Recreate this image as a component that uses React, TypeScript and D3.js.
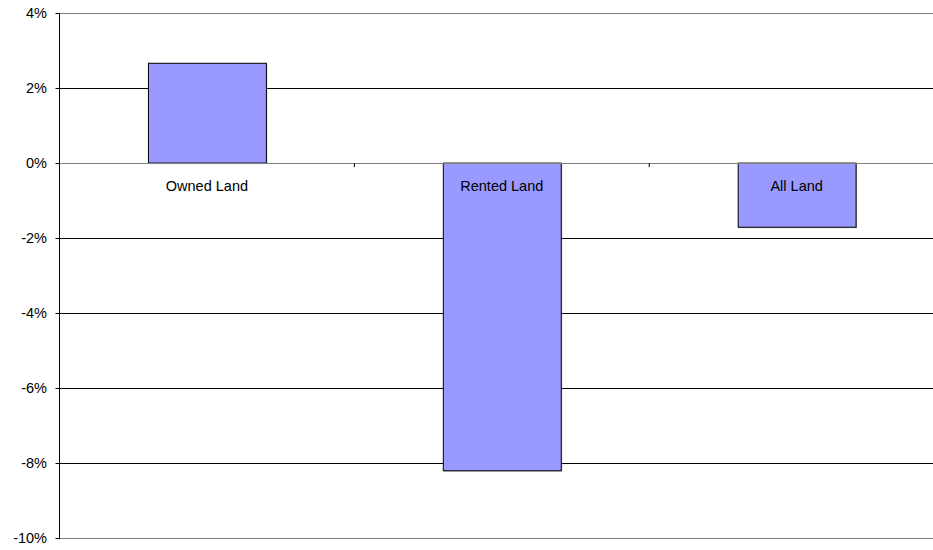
import React from "react";
import * as d3 from "d3";

const categories = ["Owned Land", "Rented Land", "All Land"];
const values = [2.66, -8.2, -1.71];
const yTicks = [4, 2, 0, -2, -4, -6, -8, -10];

const W = 933;
const H = 550;
const left = 59.5;
const bandW = 294.85;
const top = 13;
const bottom = 538.3;

export default function App() {
  const x = d3
    .scaleBand<string>()
    .domain(categories)
    .range([left, left + bandW * categories.length])
    .paddingInner(0.6)
    .paddingOuter(0.3);
  const y = d3.scaleLinear().domain([-10, 4]).range([bottom, top]);
  const y0 = y(0);
  const right = Math.min(W, left + bandW * 3);
  const boundaries = d3.range(1, categories.length).map((i) => left + i * bandW);
  const font = "Liberation Sans, Arial, sans-serif";
  const fs = 14.5;

  return (
    <div
      style={{
        position: "fixed",
        left: 0,
        top: 0,
        width: W,
        height: H,
        overflow: "hidden",
        background: "#fff",
      }}
    >
      <svg width={W} height={H} style={{ display: "block", overflow: "hidden" }}>
        {yTicks.map((t) => (
          <g key={t}>
            <line
              x1={left}
              x2={right}
              y1={Math.round(y(t)) + 0.5}
              y2={Math.round(y(t)) + 0.5}
              stroke={t === 4 || t === -10 || t === 0 ? "#808080" : "#000"}
              strokeWidth={1}
            />
            <line
              x1={left - 4}
              x2={left}
              y1={Math.round(y(t)) + 0.5}
              y2={Math.round(y(t)) + 0.5}
              stroke="#000"
            />
            <text
              x={47}
              y={y(t)}
              dy="0.35em"
              textAnchor="end"
              fontFamily={font}
              fontSize={fs}
              fill="#000"
            >
              {`${t}%`}
            </text>
          </g>
        ))}
        {categories.map((c, i) => {
          const v = values[i];
          const yTop = y(Math.max(0, v));
          const h = Math.abs(y(v) - y0);
          return (
            <g key={c}>
              <rect
                x={x(c)! + 1.5}
                y={yTop + 1}
                width={x.bandwidth()}
                height={h}
                fill="#999"
                opacity={0.6}
              />
              <rect
                x={x(c)! + 0.5}
                y={yTop}
                width={x.bandwidth()}
                height={h}
                fill="#9999FF"
                stroke="#000"
                strokeWidth={1}
              />
            </g>
          );
        })}
        <line
          x1={left}
          x2={right}
          y1={Math.round(y0) + 0.5}
          y2={Math.round(y0) + 0.5}
          stroke="#808080"
        />
        {boundaries.map((b) => (
          <line key={b} x1={b} x2={b} y1={y0} y2={y0 + 4} stroke="#000" />
        ))}
        <line x1={left} x2={left} y1={top} y2={bottom + 1} stroke="#000" strokeWidth={1} />
        {categories.map((c) => (
          <text
            key={c}
            x={x(c)! + x.bandwidth() / 2}
            y={y0 + 23}
            dy="0.35em"
            textAnchor="middle"
            fontFamily={font}
            fontSize={fs}
            fill="#000"
          >
            {c}
          </text>
        ))}
      </svg>
    </div>
  );
}
